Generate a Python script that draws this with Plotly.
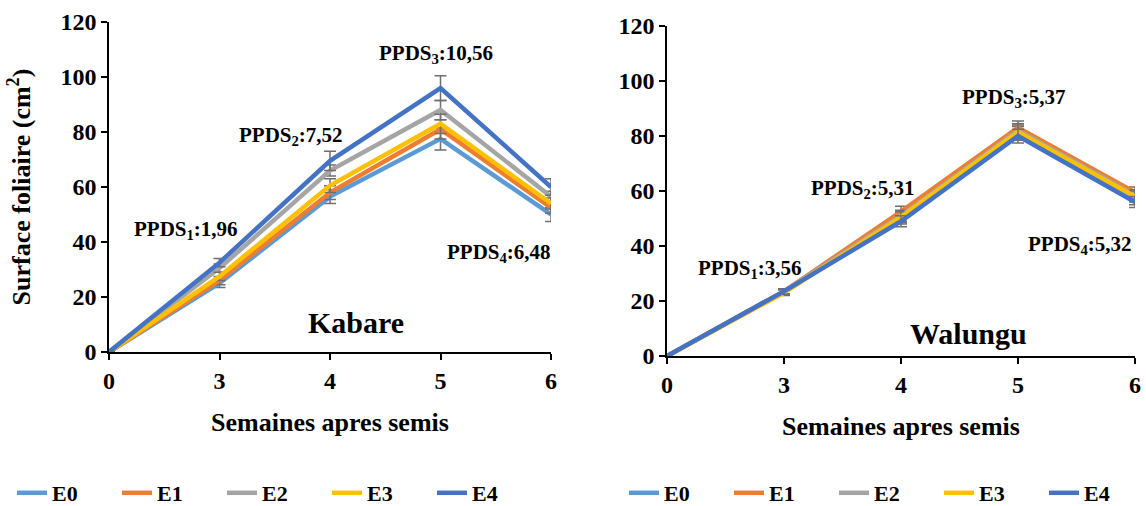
import plotly.graph_objects as go

weeks = ["0", "3", "4", "5", "6"]
series_names = ["E0", "E1", "E2", "E3", "E4"]
colors = ["#5B9BD5", "#ED7D31", "#A5A5A5", "#FFC000", "#4472C4"]

kabare_E0 = [0, 25.0, 56.5, 77.5, 50.0]
kabare_E1 = [0, 26.0, 58.0, 81.0, 52.5]
kabare_E2 = [0, 30.5, 66.0, 88.0, 56.5]
kabare_E3 = [0, 27.5, 60.5, 83.0, 54.0]
kabare_E4 = [0, 32.5, 69.5, 96.0, 60.0]
kabare_err_E0 = [0, 1.5, 2.5, 4.0, 2.5]
kabare_err_E1 = [0, 1.5, 2.5, 3.5, 2.0]
kabare_err_E2 = [0, 1.5, 2.0, 3.5, 2.0]
kabare_err_E3 = [0, 1.5, 2.5, 3.5, 2.0]
kabare_err_E4 = [0, 1.5, 3.5, 4.5, 3.0]

walungu_E0 = [0, 23.5, 50.0, 81.0, 57.0]
walungu_E1 = [0, 23.5, 52.5, 83.0, 59.5]
walungu_E2 = [0, 23.5, 51.0, 82.0, 58.5]
walungu_E3 = [0, 23.0, 50.5, 81.5, 58.0]
walungu_E4 = [0, 23.5, 49.0, 80.0, 56.0]
walungu_err_E0 = [0, 1.0, 2.0, 2.5, 2.0]
walungu_err_E1 = [0, 1.0, 2.0, 2.5, 2.0]
walungu_err_E2 = [0, 1.0, 2.0, 2.5, 2.0]
walungu_err_E3 = [0, 1.0, 2.0, 2.5, 2.0]
walungu_err_E4 = [0, 1.0, 2.0, 2.5, 2.0]

kabare_labels = ["PPDS<sub>1</sub>:1,96", "PPDS<sub>2</sub>:7,52", "PPDS<sub>3</sub>:10,56", "PPDS<sub>4</sub>:6,48"]
walungu_labels = ["PPDS<sub>1</sub>:3,56", "PPDS<sub>2</sub>:5,31", "PPDS<sub>3</sub>:5,37", "PPDS<sub>4</sub>:5,32"]

kabare = [kabare_E0, kabare_E1, kabare_E2, kabare_E3, kabare_E4]
kabare_err = [kabare_err_E0, kabare_err_E1, kabare_err_E2, kabare_err_E3, kabare_err_E4]
walungu = [walungu_E0, walungu_E1, walungu_E2, walungu_E3, walungu_E4]
walungu_err = [walungu_err_E0, walungu_err_E1, walungu_err_E2, walungu_err_E3, walungu_err_E4]

FONT = "Liberation Serif"
OFF = 0  # page body margin removed by post_script
W, H = 1146, 506

fig = go.Figure()

for i, name in enumerate(series_names):
    fig.add_trace(go.Scatter(
        x=weeks, y=kabare[i], name=name, mode="lines",
        line=dict(color=colors[i], width=4.5),
        error_y=dict(type="data", array=kabare_err[i], color="#6F6F6F", thickness=1.5, width=6),
        xaxis="x", yaxis="y", legend="legend"))
for i, name in enumerate(series_names):
    fig.add_trace(go.Scatter(
        x=weeks, y=walungu[i], name=name, mode="lines",
        line=dict(color=colors[i], width=4.5),
        error_y=dict(type="data", array=walungu_err[i], color="#6F6F6F", thickness=1.5, width=6),
        xaxis="x2", yaxis="y2", legend="legend2"))

def px_x(p):
    return (p - OFF) / W

def px_y(p):
    return (H - (p - OFF)) / H

axis_common = dict(
    showgrid=False, zeroline=False, showline=True, linecolor="black", linewidth=1.5,
    ticks="outside", ticklen=6, tickcolor="black", tickwidth=1.5,
    tickfont=dict(family=FONT, size=24, color="black", weight="bold"),
    automargin=False,
)

title_font = dict(family=FONT, size=26, color="black", weight="bold")
leg_font = dict(family=FONT, size=22, color="black", weight="bold")

fig.update_layout(
    width=W, height=H,
    margin=dict(l=0, r=0, t=0, b=0, autoexpand=False),
    paper_bgcolor="white", plot_bgcolor="white",
    font=dict(family=FONT, color="black"),
    showlegend=True,
    xaxis=dict(domain=[px_x(109), px_x(551)], type="category", range=[0, 4],
               anchor="y",
               title=dict(text="Semaines apres semis", standoff=20, font=title_font),
               **axis_common),
    yaxis=dict(domain=[px_y(352), px_y(22)], range=[0, 120], dtick=20, anchor="x",
               title=dict(text="Surface foliaire (cm<sup>2</sup>)", standoff=22, font=title_font),
               **axis_common),
    xaxis2=dict(domain=[px_x(667), px_x(1135)], type="category", range=[0, 4],
                anchor="y2",
                title=dict(text="Semaines apres semis", standoff=20, font=title_font),
                **axis_common),
    yaxis2=dict(domain=[px_y(356), px_y(26)], range=[0, 120], dtick=20, anchor="x2",
                **axis_common),
    legend=dict(orientation="h", x=px_x(12), xanchor="left", y=px_y(493), yanchor="middle",
                font=leg_font, entrywidth=60, entrywidthmode="pixels",
                bgcolor="rgba(0,0,0,0)", borderwidth=0, tracegroupgap=0),
    legend2=dict(orientation="h", x=px_x(624), xanchor="left", y=px_y(493), yanchor="middle",
                 font=leg_font, entrywidth=60, entrywidthmode="pixels",
                 bgcolor="rgba(0,0,0,0)", borderwidth=0, tracegroupgap=0),
)

ann_font = dict(family=FONT, size=21, color="black", weight="bold")
kabare_ann_pos = [(186, 230), (291, 136), (436, 54), (499, 253)]
walungu_ann_pos = [(750, 269), (863, 189), (1014, 98), (1080, 245)]
for txt, (ax, ay) in zip(kabare_labels, kabare_ann_pos):
    fig.add_annotation(text=txt, x=px_x(ax), y=px_y(ay), xref="paper", yref="paper",
                       showarrow=False, font=ann_font, xanchor="center", yanchor="middle")
for txt, (ax, ay) in zip(walungu_labels, walungu_ann_pos):
    fig.add_annotation(text=txt, x=px_x(ax), y=px_y(ay), xref="paper", yref="paper",
                       showarrow=False, font=ann_font, xanchor="center", yanchor="middle")

site_font = dict(family=FONT, size=30, color="black", weight="bold")
fig.add_annotation(text="Kabare", x=px_x(356), y=px_y(322), xref="paper", yref="paper",
                   showarrow=False, font=site_font, xanchor="center", yanchor="middle")
fig.add_annotation(text="Walungu", x=px_x(968), y=px_y(333), xref="paper", yref="paper",
                   showarrow=False, font=site_font, xanchor="center", yanchor="middle")

fig.write_html("out.html",
               config={"displayModeBar": False},
               post_script="document.body.style.margin='0';document.body.style.overflow='hidden';")
